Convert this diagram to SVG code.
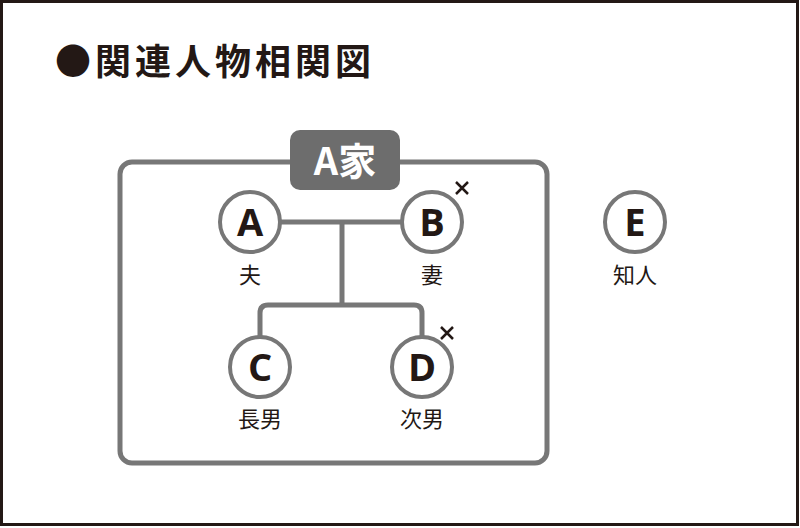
<svg xmlns="http://www.w3.org/2000/svg" width="800" height="528" viewBox="0 0 800 528">
<style>
.frame{fill:#fff;stroke:#231815;stroke-width:3}
.line{fill:none;stroke:#777;stroke-width:5}
.node{fill:#fff;stroke:#777;stroke-width:4}
.letter{font-family:"Open Sans","Liberation Sans",sans-serif;font-weight:bold;font-size:38px;fill:#231815;text-anchor:middle}
.lab{font-family:"Noto Sans CJK JP",sans-serif;font-size:22px;fill:#231815;text-anchor:middle}
.x{stroke:#231815;stroke-width:2.5;fill:none}
</style>
<rect class="frame" x="1.5" y="1.5" width="796" height="523"/>
<text x="55" y="75" font-family="Noto Sans CJK JP, sans-serif" font-weight="bold" font-size="36" letter-spacing="4" fill="#231815">●関連人物相関図</text>
<g id="family">
<rect class="line" x="120" y="162" width="427" height="301" rx="12"/>
<rect x="290" y="130" width="110" height="60" rx="10" fill="#6d6d6d"/>
<text x="345" y="175" font-family="Noto Sans CJK JP, sans-serif" font-weight="bold" font-size="38" fill="#fff" text-anchor="middle">A家</text>
</g>
<g id="connectors">
<line class="line" x1="280" y1="222" x2="402" y2="222"/>
<line class="line" x1="342" y1="222" x2="342" y2="305"/>
<path class="line" d="M260 338 V313 Q260 305 268 305 H414 Q422 305 422 313 V338"/>
</g>
<g id="A"><circle class="node" cx="250" cy="222" r="30"/><text class="letter" x="250" y="236">A</text><text class="lab" x="250" y="283">夫</text></g>
<g id="B"><circle class="node" cx="432" cy="222" r="30"/><text class="letter" x="432" y="236">B</text><text class="lab" x="432" y="283">妻</text><path class="x" d="M456 182 L468 194 M468 182 L456 194"/></g>
<g id="C"><circle class="node" cx="260" cy="367" r="30"/><text class="letter" x="260" y="381">C</text><text class="lab" x="260" y="427">長男</text></g>
<g id="D"><circle class="node" cx="422" cy="367" r="30"/><text class="letter" x="422" y="381">D</text><text class="lab" x="422" y="427">次男</text><path class="x" d="M441 327 L453 339 M453 327 L441 339"/></g>
<g id="E"><circle class="node" cx="635" cy="222" r="30"/><text class="letter" x="635" y="236">E</text><text class="lab" x="635" y="283">知人</text></g>
</svg>
